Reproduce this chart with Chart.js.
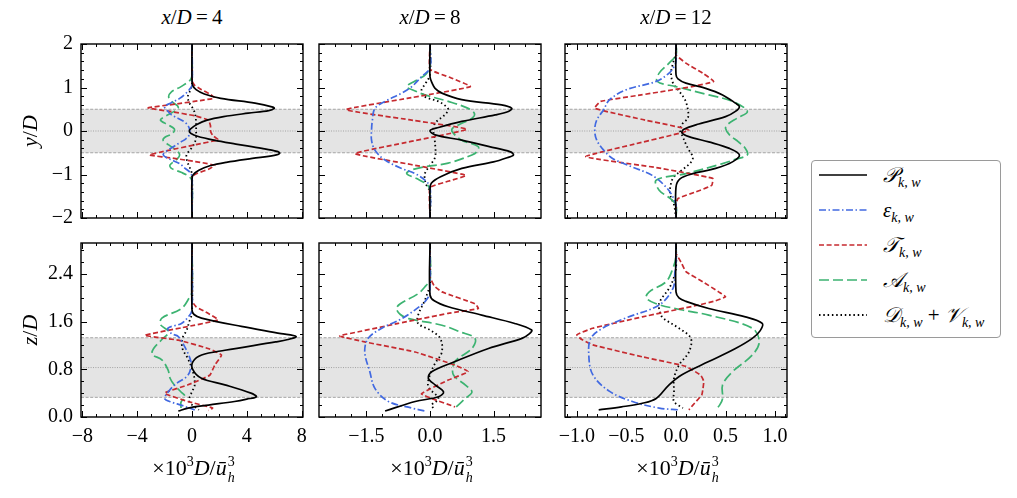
<!DOCTYPE html>
<html><head><meta charset="utf-8">
<script src="https://cdn.jsdelivr.net/npm/chart.js@4.4.1/dist/chart.umd.min.js"></script>
<style>
html,body{margin:0;padding:0;background:#fff;}
body{width:1017px;height:498px;position:relative;overflow:hidden;font-family:"Liberation Serif","Times New Roman",serif;color:#000;}
canvas{position:absolute;}
.txt{position:absolute;white-space:nowrap;font-size:21px;line-height:24px;transform:translateX(-50%);}
.xl{font-size:22px;}
.ylab{position:absolute;white-space:nowrap;font-size:22px;line-height:24px;transform:translate(-50%,-50%) rotate(-90deg);}
.ss{display:inline-block;position:relative;width:9px;height:10px;}
.ss .u{position:absolute;left:1px;top:-10px;font-size:14px;line-height:14px;}
.ss .d{position:absolute;left:1px;top:6px;font-size:14px;line-height:14px;font-style:italic;}
.sp{font-size:14px;position:relative;top:-9px;}
#legend{position:absolute;left:811px;top:160px;width:188px;height:176px;border:1px solid #9a9a9a;border-radius:4px;background:#fff;}
.row{position:absolute;left:0;height:30px;width:188px;}
.row svg{position:absolute;left:7px;top:9px;}
.row .lt{position:absolute;left:71px;top:0;font-size:21px;line-height:30px;white-space:nowrap;}
.scr{font-family:"DejaVu Serif","DejaVu Sans","Noto Sans",serif;font-style:italic;}
.row sub{font-size:14px;font-style:italic;vertical-align:-5px;line-height:0;}
</style></head>
<body>
<canvas id="c1" width="302" height="224"></canvas>
<canvas id="c2" width="302" height="224"></canvas>
<canvas id="c3" width="302" height="224"></canvas>
<canvas id="c4" width="302" height="224"></canvas>
<canvas id="c5" width="302" height="224"></canvas>
<canvas id="c6" width="302" height="224"></canvas>

<div class="txt" style="left:192px;top:5px;"><i>x</i>/<i>D</i>&#8201;=&#8201;4</div>
<div class="txt" style="left:430px;top:5px;"><i>x</i>/<i>D</i>&#8201;=&#8201;8</div>
<div class="txt" style="left:676px;top:5px;"><i>x</i>/<i>D</i>&#8201;=&#8201;12</div>

<div class="ylab" style="left:30px;top:131px;"><i>y</i>/<i>D</i></div>
<div class="ylab" style="left:30px;top:330px;"><i>z</i>/<i>D</i></div>

<div class="txt xl" style="left:194px;top:456px;">×10<span class="sp">3</span><i>D</i>/<i>ū</i><span class="ss"><span class="u">3</span><span class="d">h</span></span></div>
<div class="txt xl" style="left:432px;top:456px;">×10<span class="sp">3</span><i>D</i>/<i>ū</i><span class="ss"><span class="u">3</span><span class="d">h</span></span></div>
<div class="txt xl" style="left:678px;top:456px;">×10<span class="sp">3</span><i>D</i>/<i>ū</i><span class="ss"><span class="u">3</span><span class="d">h</span></span></div>

<div id="legend"></div>

<script>
// ---------- axis definitions ----------
const xTicks4 = [-8, -4, 0, 4, 8];
const xTicks8 = [-1.5, 0, 1.5];
const xTicks12 = [-1, -0.5, 0, 0.5, 1];
const yTicksTop = [-2, -1, 0, 1, 2];
const zTicksBot = [0, 0.8, 1.6, 2.4];
const xRange4 = [-8.1, 8.1];
const xRange8 = [-2.62, 2.62];
const xRange12 = [-1.12, 1.12];
const yRangeTop = [-2, 2];
const zRangeBot = [0, 2.92];
const rotorTop = [-0.5, 0, 0.5];
const rotorBot = [0.33, 0.83, 1.33];
const seriesNames = ['P', 'E', 'T', 'A', 'D'];

// ---------- data: [position, value] ----------
// top row (y/D), x/D = 4
const top4_P = [[2,0],[1.2,0],[1.05,0.05],[0.95,0.3],[0.85,0.9],[0.75,2.1],[0.64,4.6],[0.55,5.9],[0.52,6.0],[0.47,5.6],[0.41,4.1],[0.33,2.3],[0.25,1.1],[0.15,0.35],[0.05,-0.1],[0,-0.2],[-0.05,-0.1],[-0.12,0.4],[-0.21,1.6],[-0.3,3.2],[-0.4,5.1],[-0.47,6.2],[-0.51,6.4],[-0.56,6.0],[-0.63,4.4],[-0.72,2.5],[-0.8,1.3],[-0.9,0.5],[-1.0,0.1],[-1.1,0],[-2,0]];
const top4_E = [[2,0],[1.05,0],[0.95,-0.2],[0.85,-0.5],[0.75,-0.9],[0.65,-1.5],[0.56,-2.0],[0.47,-1.8],[0.37,-1.5],[0.21,-0.55],[0.1,-0.25],[0.02,-0.17],[-0.09,-0.2],[-0.18,-0.45],[-0.25,-0.8],[-0.35,-1.3],[-0.44,-1.75],[-0.55,-2.1],[-0.65,-1.6],[-0.75,-0.9],[-0.86,-0.5],[-0.95,-0.15],[-1.05,0],[-2,0]];
const top4_T = [[2,0],[1.15,0],[1.05,0.2],[0.95,0.7],[0.85,1.3],[0.76,1.66],[0.7,0.6],[0.62,-1.2],[0.53,-3.2],[0.45,-1.6],[0.35,0.2],[0.25,1.2],[0.12,1.35],[0,1.35],[-0.1,1.5],[-0.2,1.9],[-0.32,0.2],[-0.45,-1.8],[-0.55,-3.1],[-0.63,-1.3],[-0.72,0.6],[-0.79,1.65],[-0.88,1.2],[-0.97,0.4],[-1.05,0],[-2,0]];
const top4_A = [[2,0],[1.3,0],[1.18,-0.1],[1.02,-0.8],[0.9,-1.5],[0.78,-1.7],[0.66,-1.4],[0.55,-1.0],[0.45,-1.3],[0.33,-2.0],[0.25,-2.3],[0.15,-1.8],[0.05,-1.3],[-0.05,-1.4],[-0.15,-2.0],[-0.22,-2.1],[-0.32,-1.7],[-0.45,-1.1],[-0.55,-0.9],[-0.65,-1.1],[-0.78,-1.6],[-0.86,-1.5],[-0.95,-0.8],[-1.05,-0.2],[-1.15,0],[-2,0]];
const top4_D = [[2,0],[1.1,0],[0.95,-0.1],[0.8,-0.3],[0.65,-0.2],[0.5,0.1],[0.35,0.25],[0.15,0.3],[0,0.3],[-0.15,0.3],[-0.3,0.15],[-0.42,-0.1],[-0.55,-0.4],[-0.7,-0.35],[-0.85,-0.15],[-1.0,0],[-2,0]];
// top row, x/D = 8
const top8_P = [[2,0],[1.25,0],[1.1,0.05],[0.98,0.12],[0.87,0.28],[0.72,0.75],[0.6,1.69],[0.52,1.93],[0.45,1.85],[0.37,1.54],[0.22,0.75],[0.08,0.2],[0.01,0],[-0.09,0.12],[-0.21,0.75],[-0.36,1.4],[-0.48,1.9],[-0.55,1.97],[-0.62,1.8],[-0.71,1.5],[-0.86,0.75],[-1.05,0.25],[-1.2,0.03],[-1.35,0],[-2,0]];
const top8_E = [[2,0],[1.45,0],[1.25,-0.2],[1.02,-0.43],[0.87,-0.67],[0.68,-1.06],[0.52,-1.3],[0.25,-1.36],[0.02,-1.38],[-0.21,-1.38],[-0.44,-1.3],[-0.67,-1.06],[-0.86,-0.67],[-0.98,-0.35],[-1.13,-0.12],[-1.29,0],[-2,0]];
const top8_T = [[2,0],[1.42,0],[1.22,0.5],[1.02,0.95],[0.75,-0.54],[0.49,-1.98],[0.26,-0.5],[0.04,0.87],[-0.24,-0.45],[-0.52,-1.77],[-0.77,-0.45],[-1.02,0.85],[-1.15,0.45],[-1.3,0],[-2,0]];
const top8_A = [[2,0],[1.5,0],[1.3,-0.1],[1.15,-0.35],[1.02,-0.55],[0.92,-0.35],[0.83,-0.12],[0.68,0.43],[0.52,0.9],[0.4,1.05],[0.3,1.0],[0.14,0.67],[0.05,0.52],[-0.05,0.55],[-0.21,0.75],[-0.36,1.14],[-0.48,1.1],[-0.55,0.99],[-0.74,0.43],[-0.82,-0.12],[-0.9,-0.45],[-0.98,-0.55],[-1.1,-0.3],[-1.25,-0.05],[-1.4,0],[-2,0]];
const top8_D = [[2,0],[1.3,0],[1.1,-0.1],[0.94,-0.2],[0.79,-0.12],[0.68,0.2],[0.55,0.4],[0.49,0.43],[0.4,0.38],[0.33,0.3],[0.18,0.12],[0.02,0.08],[-0.29,0.12],[-0.6,0.12],[-0.79,0],[-0.98,-0.12],[-1.21,-0.1],[-1.4,0],[-2,0]];
// top row, x/D = 12
const top12_P = [[2,0],[1.3,0],[1.2,0.02],[1.1,0.1],[0.98,0.3],[0.83,0.47],[0.64,0.6],[0.56,0.64],[0.45,0.6],[0.33,0.5],[0.16,0.23],[0.04,0.08],[-0.04,0.06],[-0.13,0.13],[-0.25,0.33],[-0.4,0.54],[-0.55,0.64],[-0.71,0.57],[-0.86,0.4],[-0.98,0.17],[-1.1,0.04],[-1.29,0],[-2,0]];
const top12_E = [[2,0],[1.6,0],[1.48,-0.02],[1.33,-0.07],[1.14,-0.2],[0.95,-0.5],[0.72,-0.67],[0.49,-0.73],[0.25,-0.8],[0.02,-0.82],[-0.21,-0.8],[-0.44,-0.73],[-0.63,-0.64],[-0.83,-0.44],[-1.02,-0.24],[-1.29,-0.1],[-1.52,-0.03],[-1.7,0],[-2,0]];
const top12_T = [[2,0],[1.75,0],[1.56,0.1],[1.33,0.27],[1.14,0.38],[1.02,0.16],[0.83,-0.35],[0.68,-0.76],[0.52,-0.82],[0.27,-0.35],[0.02,0.13],[-0.29,-0.4],[-0.59,-0.91],[-0.84,-0.2],[-1.09,0.37],[-1.25,0.36],[-1.4,0.2],[-1.55,0.02],[-1.7,0],[-2,0]];
const top12_A = [[2,0],[1.75,0],[1.56,-0.07],[1.33,-0.17],[1.14,-0.19],[1.02,0.0],[0.83,0.33],[0.68,0.57],[0.45,0.72],[0.3,0.62],[0.15,0.52],[0.06,0.5],[-0.09,0.54],[-0.25,0.63],[-0.4,0.7],[-0.55,0.72],[-0.65,0.6],[-0.75,0.47],[-0.98,0.1],[-1.13,-0.2],[-1.36,-0.17],[-1.55,-0.06],[-1.7,0],[-2,0]];
const top12_D = [[2,0],[1.8,0],[1.56,-0.03],[1.33,-0.05],[1.1,-0.03],[0.95,0.02],[0.72,0.09],[0.49,0.12],[0.3,0.12],[0.15,0.06],[0.02,0.04],[-0.09,0.06],[-0.4,0.12],[-0.6,0.17],[-0.72,0.15],[-0.9,0.06],[-1.05,-0.02],[-1.2,-0.05],[-1.45,-0.06],[-1.7,-0.02],[-2,0]];
// bottom row (z/D), x/D = 4
const bot4_P = [[2.92,0],[1.8,0],[1.72,0.15],[1.66,0.69],[1.52,3.6],[1.4,6.5],[1.35,7.6],[1.3,7.0],[1.26,6.1],[1.12,2.4],[1.04,0.7],[0.93,0.07],[0.8,0.05],[0.65,0.69],[0.54,2.4],[0.4,4.3],[0.34,4.7],[0.3,4.0],[0.26,3.1],[0.2,1.2],[0.15,-0.3],[0.1,-1.0]];
const bot4_E = [[2.92,0],[1.8,0],[1.7,-0.2],[1.57,-0.77],[1.49,-1.75],[1.4,-1.5],[1.35,-1.0],[1.12,-0.4],[0.95,-0.1],[0.87,-0.05],[0.7,-0.3],[0.54,-1.26],[0.4,-1.8],[0.31,-2.0],[0.25,-1.5],[0.2,-0.8],[0.12,0.2]];
const bot4_T = [[2.92,0],[1.95,0],[1.85,0.3],[1.74,1.17],[1.63,1.9],[1.5,-0.7],[1.37,-3.45],[1.29,-1.0],[1.15,1.17],[1.04,2.15],[0.87,1.66],[0.7,1.29],[0.54,-0.29],[0.4,-2.0],[0.26,-0.29],[0.15,1.5],[0.11,1.2]];
const bot4_A = [[2.92,0],[2.1,0],[2.0,-0.2],[1.82,-0.77],[1.66,-2.2],[1.55,-2.3],[1.43,-1.7],[1.3,-2.2],[1.15,-2.8],[1.05,-2.9],[0.96,-2.2],[0.79,-1.75],[0.65,-1.6],[0.54,-1.3],[0.42,-0.8],[0.34,-0.5],[0.25,-0.8],[0.15,-0.8]];
const bot4_D = [[2.92,0],[1.75,0],[1.6,-0.2],[1.45,-0.4],[1.32,-0.7],[1.15,-0.7],[0.98,-0.3],[0.76,0.07],[0.54,0.2],[0.4,-0.05],[0.26,-0.2],[0.12,0.5]];
// bottom row, x/D = 8
const bot8_P = [[2.92,0],[2.05,0],[1.95,0.1],[1.85,0.43],[1.71,1.22],[1.57,2.0],[1.46,2.4],[1.4,2.35],[1.32,2.17],[1.15,1.38],[0.93,0.59],[0.76,0.04],[0.65,-0.04],[0.54,0.12],[0.42,0.32],[0.34,0.2],[0.26,-0.35],[0.1,-1.06]];
const bot8_E = [[2.92,0],[2.1,0],[2.0,-0.05],[1.88,-0.2],[1.65,-0.67],[1.49,-1.14],[1.32,-1.46],[1.09,-1.54],[0.76,-1.42],[0.48,-1.3],[0.26,-0.98],[0.15,-0.43],[0.1,-0.12]];
const bot8_T = [[2.92,0],[2.35,0],[2.2,0.1],[2.1,0.28],[1.9,1.06],[1.82,1.14],[1.74,0.43],[1.57,-0.75],[1.43,-1.69],[1.36,-2.13],[1.26,-1.54],[1.09,-0.35],[0.87,0.59],[0.76,0.9],[0.62,0.43],[0.39,-0.2],[0.31,0.04],[0.17,0.59]];
const bot8_A = [[2.92,0],[2.3,0],[2.2,-0.1],[2.07,-0.28],[1.9,-0.7],[1.82,-0.79],[1.72,-0.7],[1.65,-0.5],[1.54,0.28],[1.43,0.7],[1.32,1.06],[1.15,0.99],[0.93,0.59],[0.71,0.55],[0.54,0.83],[0.42,0.99],[0.31,0.83],[0.15,0.59]];
const bot8_D = [[2.92,0],[2.2,0],[2.1,-0.05],[1.96,-0.12],[1.71,-0.28],[1.57,-0.28],[1.46,0],[1.32,0.24],[1.09,0.28],[0.9,0.12],[0.71,0],[0.51,-0.04],[0.31,0.2],[0.2,0.04],[0.12,0.12]];
// bottom row, x/D = 12
const bot12_P = [[2.92,0],[2.1,0],[2.0,0.03],[1.94,0.1],[1.82,0.33],[1.68,0.7],[1.57,0.87],[1.45,0.85],[1.32,0.77],[1.15,0.6],[0.93,0.33],[0.71,0.06],[0.54,-0.07],[0.31,-0.2],[0.23,-0.34],[0.17,-0.55],[0.12,-0.78]];
const bot12_E = [[2.92,0],[2.5,0],[2.44,-0.01],[2.16,-0.03],[1.88,-0.17],[1.66,-0.51],[1.49,-0.74],[1.32,-0.86],[1.04,-0.88],[0.71,-0.84],[0.43,-0.67],[0.26,-0.44],[0.15,-0.17],[0.12,0.03]];
const bot12_T = [[2.92,0],[2.75,0],[2.6,0.05],[2.44,0.1],[2.27,0.27],[2.1,0.43],[2.02,0.5],[1.95,0.4],[1.88,0.23],[1.68,-0.34],[1.49,-0.84],[1.38,-1.0],[1.3,-0.95],[1.21,-0.84],[1.01,-0.34],[0.85,0.1],[0.7,0.25],[0.6,0.28],[0.45,0.27],[0.37,0.26],[0.2,0.17],[0.12,0.13]];
const bot12_A = [[2.92,0],[2.7,0],[2.5,-0.03],[2.27,-0.1],[2.1,-0.27],[2.0,-0.3],[1.9,-0.2],[1.8,0.05],[1.71,0.33],[1.49,0.77],[1.26,0.84],[1.04,0.77],[0.76,0.57],[0.54,0.47],[0.31,0.47],[0.2,0.44],[0.12,0.4]];
const bot12_D = [[2.92,0],[2.5,0],[2.3,-0.03],[2.16,-0.07],[1.91,-0.17],[1.75,-0.16],[1.66,-0.13],[1.49,0.03],[1.32,0.15],[1.09,0.13],[0.87,0.03],[0.65,-0.02],[0.43,-0.02],[0.26,-0.02],[0.15,0.07]];

// ---------- styles ----------
const seriesStyle = {
  P: {color: '#000000', dash: [], width: 1.7, tension: 0.35},
  E: {color: '#4169e1', dash: [7, 2.5, 1.5, 2.5], width: 1.7, tension: 0.35},
  T: {color: '#c62a2f', dash: [5, 2.6], width: 1.7, tension: 0.12},
  A: {color: '#3cb371', dash: [10, 4], width: 1.7, tension: 0.35},
  D: {color: '#000000', dash: [1.5, 2.8], width: 1.8, tension: 0.35}
};
const legendLabels = {
  P: '<span class="scr">𝒫</span><sub>k, w</sub>',
  E: '<i>ε</i><sub>k, w</sub>',
  T: '<span class="scr">𝒯</span><sub>k, w</sub>',
  A: '<span class="scr">𝒜</span><sub>k, w</sub>',
  D: '<span class="scr">𝒟</span><sub>k, w</sub> + <span class="scr">𝒱</span><sub>k, w</sub>'
};

// ---------- layout ----------
const ML = 60, MT = 10, MR = 20, MB = 40;
const FONT = '"Liberation Serif", "Times New Roman", serif';

const bandPlugin = {
  id: 'band',
  beforeDatasetsDraw(chart, args, opts) {
    const {ctx, chartArea: a, scales: {y}} = chart;
    const lo = y.getPixelForValue(opts.band[0]);
    const mid = y.getPixelForValue(opts.band[1]);
    const hi = y.getPixelForValue(opts.band[2]);
    ctx.save();
    ctx.fillStyle = '#e4e4e4';
    ctx.fillRect(a.left, hi, a.right - a.left, lo - hi);
    ctx.strokeStyle = '#9c9c9c';
    ctx.lineWidth = 0.9;
    ctx.setLineDash([3, 1.6]);
    [lo, hi].forEach(p => { ctx.beginPath(); ctx.moveTo(a.left, p); ctx.lineTo(a.right, p); ctx.stroke(); });
    ctx.setLineDash([1, 1.4]);
    ctx.beginPath(); ctx.moveTo(a.left, mid); ctx.lineTo(a.right, mid); ctx.stroke();
    ctx.restore();
  }
};

const frameTicks = {
  id: 'frameTicks',
  afterDatasetsDraw(chart, args, opts) {
    const {ctx, chartArea: a, scales: {x, y}} = chart;
    ctx.save();
    ctx.strokeStyle = '#000';
    ctx.lineWidth = 1;
    const draw = (scale, vals, len, horiz) => {
      vals.forEach(v => {
        const p = Math.round(scale.getPixelForValue(v)) + 0.5;
        ctx.beginPath();
        if (horiz) {
          ctx.moveTo(p, a.bottom); ctx.lineTo(p, a.bottom - len);
          ctx.moveTo(p, a.top); ctx.lineTo(p, a.top + len);
        } else {
          ctx.moveTo(a.left, p); ctx.lineTo(a.left + len, p);
          ctx.moveTo(a.right, p); ctx.lineTo(a.right - len, p);
        }
        ctx.stroke();
      });
    };
    const minors = (scale, step) => {
      const out = [];
      const s = Math.ceil(scale.min / step - 1e-6), e = Math.floor(scale.max / step + 1e-6);
      for (let i = s; i <= e; i++) out.push(i * step);
      return out;
    };
    draw(x, minors(x, opts.xMinor), 3, true);
    draw(y, minors(y, opts.yMinor), 3, false);
    draw(x, x.ticks.map(t => t.value), 6, true);
    draw(y, y.ticks.map(t => t.value), 6, false);
    ctx.lineWidth = 1.4;
    ctx.strokeRect(a.left, a.top, a.right - a.left, a.bottom - a.top);
    ctx.restore();
  }
};

function fmt(v, dec) {
  return (Math.abs(v) < 1e-9 ? 0 : v).toFixed(dec).replace('-', '\u2212');
}

function zeroPad(s) { s.paddingLeft = 0; s.paddingRight = 0; s.paddingTop = 0; s.paddingBottom = 0; }

function makePanel(cfg) {
  const cv = document.getElementById(cfg.id);
  cv.style.left = (cfg.left - ML) + 'px';
  cv.style.top = (cfg.top - MT) + 'px';
  const datasets = seriesNames.map(k => {
    const st = seriesStyle[k];
    return {
      label: k,
      data: cfg.series[k].map(p => ({x: p[1], y: p[0]})),
      showLine: true,
      borderColor: st.color,
      borderWidth: st.width,
      borderDash: st.dash,
      tension: st.tension,
      pointRadius: 0,
      pointHoverRadius: 0,
      fill: false
    };
  });
  new Chart(cv, {
    type: 'scatter',
    data: {datasets},
    plugins: [bandPlugin, frameTicks],
    options: {
      responsive: false,
      animation: false,
      devicePixelRatio: 1,
      layout: {padding: {left: 0, top: MT, right: MR, bottom: 0}},
      plugins: {
        legend: {display: false},
        tooltip: {enabled: false},
        band: {band: cfg.band},
        frameTicks: {xMinor: cfg.xMinor, yMinor: cfg.yMinor}
      },
      scales: {
        x: {
          type: 'linear', position: 'bottom',
          min: cfg.xr[0], max: cfg.xr[1],
          grid: {display: false, drawTicks: false},
          border: {display: false},
          afterBuildTicks: s => { s.ticks = cfg.xt.map(v => ({value: v})); },
          afterFit: s => { s.height = MB; zeroPad(s); },
          ticks: {
            display: cfg.showX, autoSkip: false, maxRotation: 0, minRotation: 0,
            padding: 8, color: '#000',
            font: {family: FONT, size: 20},
            callback: v => fmt(v, cfg.xDec)
          }
        },
        y: {
          type: 'linear', position: 'left',
          min: cfg.yr[0], max: cfg.yr[1],
          grid: {display: false, drawTicks: false},
          border: {display: false},
          afterBuildTicks: s => { s.ticks = cfg.yt.map(v => ({value: v})); },
          afterFit: s => { s.width = ML; zeroPad(s); },
          ticks: {
            display: cfg.showY, autoSkip: false,
            padding: 8, color: '#000',
            font: {family: FONT, size: 20},
            callback: v => fmt(v, cfg.yDec)
          }
        }
      }
    }
  });
}

const topSeries = [
  {P: top4_P, E: top4_E, T: top4_T, A: top4_A, D: top4_D},
  {P: top8_P, E: top8_E, T: top8_T, A: top8_A, D: top8_D},
  {P: top12_P, E: top12_E, T: top12_T, A: top12_A, D: top12_D}
];
const botSeries = [
  {P: bot4_P, E: bot4_E, T: bot4_T, A: bot4_A, D: bot4_D},
  {P: bot8_P, E: bot8_E, T: bot8_T, A: bot8_A, D: bot8_D},
  {P: bot12_P, E: bot12_E, T: bot12_T, A: bot12_A, D: bot12_D}
];
const colX = [
  {left: 81, xr: xRange4, xt: xTicks4, xDec: 0, xMinor: 1},
  {left: 319, xr: xRange8, xt: xTicks8, xDec: 1, xMinor: 0.375},
  {left: 565, xr: xRange12, xt: xTicks12, xDec: 1, xMinor: 0.1}
];
colX.forEach((c, i) => {
  makePanel(Object.assign({}, c, {id: 'c' + (i + 1), top: 44, yr: yRangeTop, yt: yTicksTop, yDec: 0, yMinor: 0.2,
    band: rotorTop, series: topSeries[i], showX: false, showY: i === 0}));
  makePanel(Object.assign({}, c, {id: 'c' + (i + 4), top: 243, yr: zRangeBot, yt: zTicksBot, yDec: 1, yMinor: 0.2,
    band: rotorBot, series: botSeries[i], showX: true, showY: i === 0}));
});

// ---------- legend ----------
const lg = document.getElementById('legend');
seriesNames.forEach((k, i) => {
  const st = seriesStyle[k];
  const row = document.createElement('div');
  row.className = 'row';
  row.style.top = (-1 + i * 35) + 'px';
  row.innerHTML = '<svg width="50" height="12"><line x1="0" y1="6" x2="48" y2="6" stroke="' + st.color +
    '" stroke-width="' + st.width + '" stroke-dasharray="' + (st.dash.length ? st.dash.join(',') : 'none') + '"/></svg>' +
    '<span class="lt">' + legendLabels[k] + '</span>';
  lg.appendChild(row);
});
</script>
</body></html>
